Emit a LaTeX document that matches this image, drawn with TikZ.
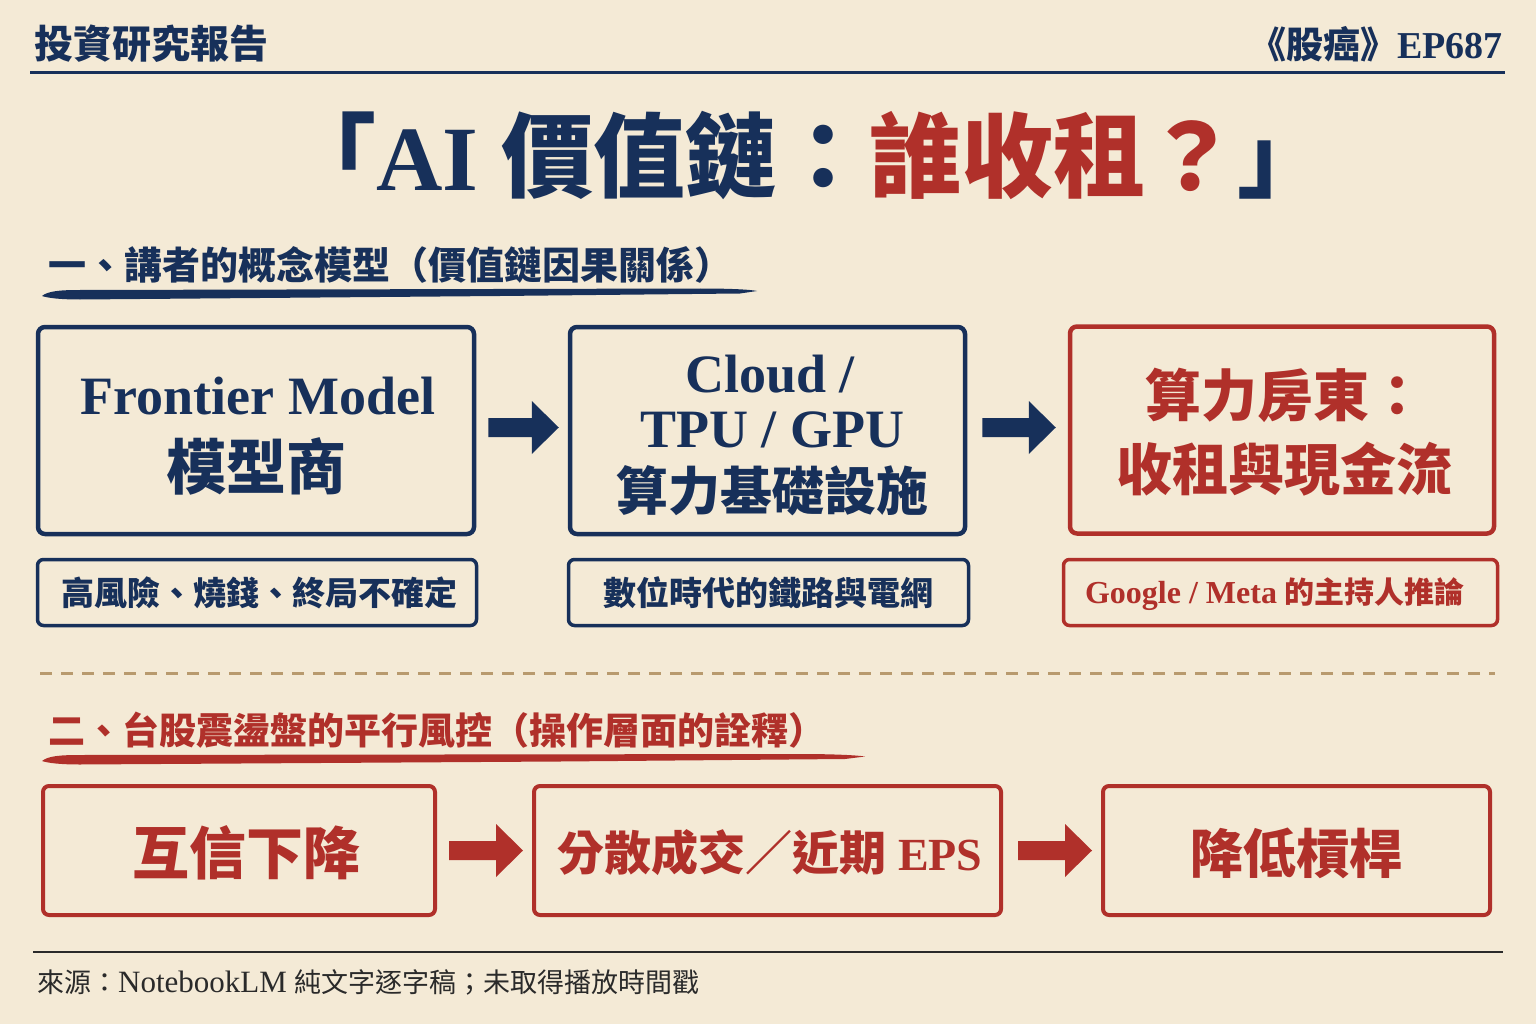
\documentclass[tikz,border=0pt]{standalone}
\usepackage{fontspec}
\setmainfont{Liberation Serif}
\newfontfamily\cjk{Noto Sans CJK TC}
\usetikzlibrary{calc}
\definecolor{paper}{HTML}{F4EAD6}
\definecolor{navy}{HTML}{17305A}
\definecolor{brick}{HTML}{B0302A}
\definecolor{tanline}{HTML}{B89A6E}
\definecolor{inkc}{HTML}{2A2A2A}
\newcommand\fs[1]{\fontsize{#1}{#1}\selectfont}
\newcommand\fatarrow[3]{%
  \fill[#3] let \p1=#1, \p2=#2 in
   (\x1,\y1+9.5pt) -- (\x2-27pt,\y1+9.5pt) -- (\x2-27pt,\y1+26.5pt) -- (\x2,\y1)
   -- (\x2-27pt,\y1-26.5pt) -- (\x2-27pt,\y1-9.5pt) -- (\x1,\y1-9.5pt) -- cycle;}
\begin{document}
\begin{tikzpicture}[x=1pt,y=-1pt,
  bigbox/.style={line width=4.5pt, rounded corners=7pt, inner sep=0pt, minimum height=207pt},
  subbox/.style={line width=3.5pt, rounded corners=6pt, inner sep=0pt, minimum height=66pt},
  lowbox/.style={line width=4pt, rounded corners=6pt, inner sep=0pt, minimum height=129pt},
  txt/.style={inner sep=0pt, anchor=center},
]
\useasboundingbox (0,0) rectangle (1536,1024);
\fill[paper] (0,0) rectangle (1536,1024);

% header
\node[inner sep=0pt, anchor=west, text=navy] (hl) at (34,44) {\fs{39}\cjk\bfseries 投資研究報告};
\node[inner sep=0pt, anchor=east, text=navy] (hr) at (1503,44) {{\fs{37}\cjk\bfseries 《股癌》}{\fs{38}\bfseries EP687}};
\draw[navy, line width=3pt] (30,73) -- (1505,73);

% title
\node[txt] (title) at (807,155) {\fs{92}%
  {\cjk\bfseries\color{navy}「}{\bfseries\color{navy}AI }{\cjk\bfseries\color{navy}價值鏈：}{\cjk\bfseries\color{brick}誰收租？}{\cjk\bfseries\color{navy}」}};

% section 1
\node[inner sep=0pt, anchor=west, text=navy] (h1) at (48,265) {\fs{38}\cjk\bfseries 一、講者的概念模型（價值鏈因果關係）};
\fill[navy] (42,296) .. controls (48,291) and (60,290) .. (80,290) -- (700,288.5)
  .. controls (730,288.5) and (750,289.5) .. (757,291) -- (740,293.5) -- (500,296) -- (80,299.5)
  .. controls (60,299.5) and (48,298) .. (42,296) -- cycle;

\node[bigbox, draw=navy, minimum width=436pt] (bA) at (256,430.5) {};
\node[bigbox, draw=navy, minimum width=395pt] (bB) at (767.5,430.5) {};
\node[bigbox, draw=brick, minimum width=424pt] (bC) at (1282,430) {};

\node[txt, text=navy] (tA1) at (258,396) {\fs{54}\bfseries Frontier Model};
\node[txt, text=navy] (tA2) at (256,466) {\fs{60}\cjk\bfseries 模型商};
\node[txt, text=navy] (tB1) at (770,374) {\fs{54}\bfseries Cloud /};
\node[txt, text=navy] (tB2) at (772,430) {\fs{54}\bfseries TPU / GPU};
\node[txt, text=navy] (tB3) at (772,491) {\fs{52}\cjk\bfseries 算力基礎設施};
\node[txt, text=brick] (tC1) at (1285,395) {\fs{56}\cjk\bfseries 算力房東：};
\node[txt, text=brick] (tC2) at (1284,469) {\fs{56}\cjk\bfseries 收租與現金流};

\fatarrow{($(bA.east)+(12,-3)$)}{($(bB.west)+(-9,-3)$)}{navy}
\fatarrow{($(bB.east)+(15,-3)$)}{($(bC.west)+(-12,-3)$)}{navy}

\node[subbox, draw=navy, minimum width=439pt] (sA) at (257,592.5) {};
\node[subbox, draw=navy, minimum width=400pt] (sB) at (768.5,592.5) {};
\node[subbox, draw=brick, minimum width=434pt] (sC) at (1280.5,592.5) {};
\node[txt, text=navy] (tsA) at (259,593) {\fs{33}\cjk\bfseries 高風險、燒錢、終局不確定};
\node[txt, text=navy] (tsB) at (768,593) {\fs{33}\cjk\bfseries 數位時代的鐵路與電網};
\node[txt, text=brick] (tsC) at (1275,594) {{\fs{32}\bfseries Google / Meta }{\fs{30}\cjk\bfseries 的主持人推論}};

% dashed separator
\draw[tanline, line width=3pt, dash pattern=on 12pt off 9pt] (40,673) -- (1495,673);

% section 2
\node[inner sep=0pt, anchor=west, text=brick] (h2) at (48,730) {\fs{37}\cjk\bfseries 二、台股震盪盤的平行風控（操作層面的詮釋）};
\fill[brick] (42,761) .. controls (48,756) and (60,755) .. (80,755) -- (800,754)
  .. controls (830,754) and (855,755) .. (865,756.5) -- (845,759) -- (560,761.5) -- (80,764.5)
  .. controls (60,764.5) and (48,763) .. (42,761) -- cycle;

\node[lowbox, draw=brick, minimum width=392pt] (bD) at (239,850.5) {};
\node[lowbox, draw=brick, minimum width=467pt] (bE) at (767.5,850.5) {};
\node[lowbox, draw=brick, minimum width=387pt] (bF) at (1296.5,850.5) {};
\node[txt, text=brick] (tD) at (246,853) {\fs{57}\cjk\bfseries 互信下降};
\node[txt, text=brick] (tE) at (770,853) {{\fs{47}\cjk\bfseries 分散成交／近期}{\fs{46}\bfseries\ EPS}};
\node[txt, text=brick] (tF) at (1296,853) {\fs{53}\cjk\bfseries 降低槓桿};

\fatarrow{($(bD.east)+(12,0)$)}{($(bE.west)+(-9,0)$)}{brick}
\fatarrow{($(bE.east)+(15,0)$)}{($(bF.west)+(-9,0)$)}{brick}

% footer
\draw[inkc, line width=2.5pt] (33,952) -- (1503,952);
\node[inner sep=0pt, anchor=west, text=inkc] (foot) at (37,982) {{\fs{27}\cjk 來源：}{\fs{31}NotebookLM }{\fs{27}\cjk 純文字逐字稿；未取得播放時間戳}};
\end{tikzpicture}
\end{document}
